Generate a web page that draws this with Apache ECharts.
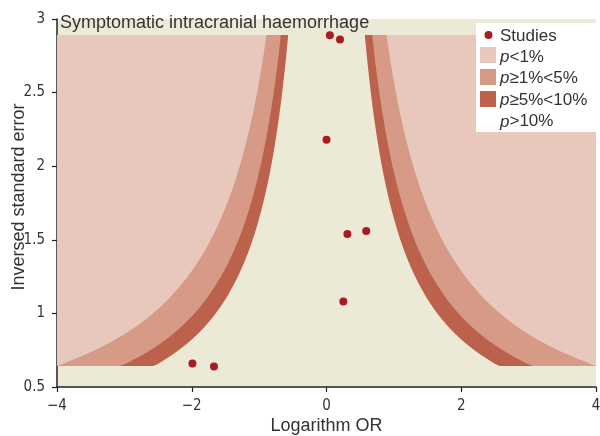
<!DOCTYPE html>
<html>
<head>
<meta charset="utf-8">
<script src="https://cdn.jsdelivr.net/npm/echarts@6/dist/echarts.min.js"></script>
<style>html,body{margin:0;padding:0;background:#fff;}#c{width:600px;height:436px;}</style>
</head>
<body>
<div id="c"></div>
<script>
// Study estimates
const studyLogOR = [0.05, 0.20, 0.00, 0.31, 0.59, 0.25, -1.99, -1.67];
const studyInvSE = [2.89, 2.86, 2.18, 1.54, 1.56, 1.08, 0.66, 0.64];
// Contour definitions: critical z for two-sided p = 1%, 5%, 10%
const contourNames = ['p<1%', 'p≥1%<5%', 'p≥5%<10%', 'p>10%'];
const contourZ = [2.576, 1.960, 1.645];
const xTicks = [-4, -2, 0, 2, 4];
const yTicks = [0.5, 1, 1.5, 2, 2.5, 3];
const titleText = 'Symptomatic intracranial haemorrhage';

const FONT = '"Liberation Sans", Arial, sans-serif';
const NARROW = '"Liberation Sans Narrow", "DejaVu Sans Condensed", sans-serif';
const colLight = '#e8c8bd', colMed = '#d69a86', colDark = '#bb614c', colBeige = '#ece9d6', colDot = '#a51c24';

const xMin = xTicks[0], xMax = xTicks[xTicks.length - 1];
const yLo = Math.min.apply(null, studyInvSE), yHi = Math.max.apply(null, studyInvSE);

function snap(p) { return [p[0], Math.round(p[1])]; }
function bandRender(params, api) {
  const pts = [api.coord([xMin, yLo]), api.coord([xMin, yHi]), api.coord([xMax, yHi]), api.coord([xMax, yLo])].map(snap);
  return { type: 'polygon', shape: { points: pts }, style: { fill: api.visual('color') } };
}
function funnelRender(z) {
  return function (params, api) {
    const n = 120, left = [], right = [];
    for (let i = 0; i <= n; i++) {
      const y = yLo + (yHi - yLo) * i / n;
      const w = Math.min(z / y, xMax);
      let pl = api.coord([-w, y]), pr = api.coord([w, y]);
      if (i === 0 || i === n) { pl = snap(pl); pr = snap(pr); }
      left.push(pl);
      right.unshift(pr);
    }
    return { type: 'polygon', shape: { points: left.concat(right) }, style: { fill: api.visual('color') } };
  };
}

const chart = echarts.init(document.getElementById('c'));
const minus = v => String(v).replace('-', '\u2212');

chart.setOption({
  animation: false,
  title: {
    text: titleText, left: 60, top: 14, padding: 0,
    textStyle: { fontFamily: FONT, fontSize: 18, fontWeight: 'normal', color: '#333' }
  },
  grid: { left: 57, right: 4, top: 19, bottom: 49, containLabel: false, outerBoundsMode: 'none', show: true, backgroundColor: colBeige, borderWidth: 0 },
  xAxis: {
    type: 'value', min: xMin, max: xMax, interval: 2,
    name: 'Logarithm OR', nameLocation: 'middle', nameGap: 30, nameMoveOverlap: false,
    nameTextStyle: { fontFamily: FONT, fontSize: 18, color: '#333' },
    axisLine: { onZero: false, lineStyle: { color: '#222', width: 1.5 } },
    axisTick: { show: true, length: 5, lineStyle: { color: '#222', width: 1.2 } },
    axisLabel: { fontFamily: NARROW, fontSize: 15, color: '#333', margin: 12, formatter: minus },
    splitLine: { show: false }
  },
  yAxis: {
    type: 'value', min: yTicks[0], max: yTicks[yTicks.length - 1], interval: 0.5,
    name: 'Inversed standard error', nameLocation: 'middle', nameGap: 29, nameMoveOverlap: false,
    nameTextStyle: { fontFamily: FONT, fontSize: 18, color: '#333', padding: [0, 0, 0, 12] },
    axisLine: { show: true, onZero: false, lineStyle: { color: '#222', width: 1.5 } },
    axisTick: { show: true, length: 5, lineStyle: { color: '#222', width: 1.2 } },
    axisLabel: { fontFamily: NARROW, fontSize: 15, color: '#333', margin: 12 },
    splitLine: { show: false }
  },
  series: [
    { name: contourNames[0], type: 'custom', renderItem: bandRender, data: [[0, 0]], itemStyle: { color: colLight }, silent: true, z: 1 },
    { name: contourNames[1], type: 'custom', renderItem: funnelRender(contourZ[0]), data: [[0, 0]], itemStyle: { color: colMed }, silent: true, z: 2 },
    { name: contourNames[2], type: 'custom', renderItem: funnelRender(contourZ[1]), data: [[0, 0]], itemStyle: { color: colDark }, silent: true, z: 3 },
    { name: contourNames[3], type: 'custom', renderItem: funnelRender(contourZ[2]), data: [[0, 0]], itemStyle: { color: colBeige }, silent: true, z: 4 },
    {
      name: 'Studies', type: 'scatter', symbol: 'circle', symbolSize: 8, z: 10,
      itemStyle: { color: colDot, opacity: 1 },
      data: studyLogOR.map((x, i) => [x, studyInvSE[i]])
    }
  ],
  graphic: [
    { type: 'rect', z: 100, shape: { x: 476, y: 23, width: 121, height: 109 }, style: { fill: '#fff' } },
    { type: 'circle', z: 101, shape: { cx: 488.5, cy: 35, r: 4 }, style: { fill: colDot } },
    { type: 'rect', z: 101, shape: { x: 480, y: 47, width: 16, height: 16 }, style: { fill: colLight } },
    { type: 'rect', z: 101, shape: { x: 480, y: 69, width: 16, height: 16 }, style: { fill: colMed } },
    { type: 'rect', z: 101, shape: { x: 480, y: 91, width: 16, height: 16 }, style: { fill: colDark } },
    { type: 'text', z: 101, style: { x: 500, y: 36, text: 'Studies', font: '17px ' + FONT, fill: '#333', verticalAlign: 'middle' } }
  ].concat(contourNames.map((nm, i) => ({
    type: 'text', z: 101,
    style: {
      x: 500, y: 57 + i * 21.6, verticalAlign: 'middle', fill: '#333',
      text: '{i|p}{n|' + nm.slice(1) + '}',
      rich: {
        i: { fontFamily: FONT, fontSize: 17, fontStyle: 'italic', fill: '#333' },
        n: { fontFamily: FONT, fontSize: 17, fill: '#333' }
      }
    }
  })))
});
</script>
</body>
</html>
